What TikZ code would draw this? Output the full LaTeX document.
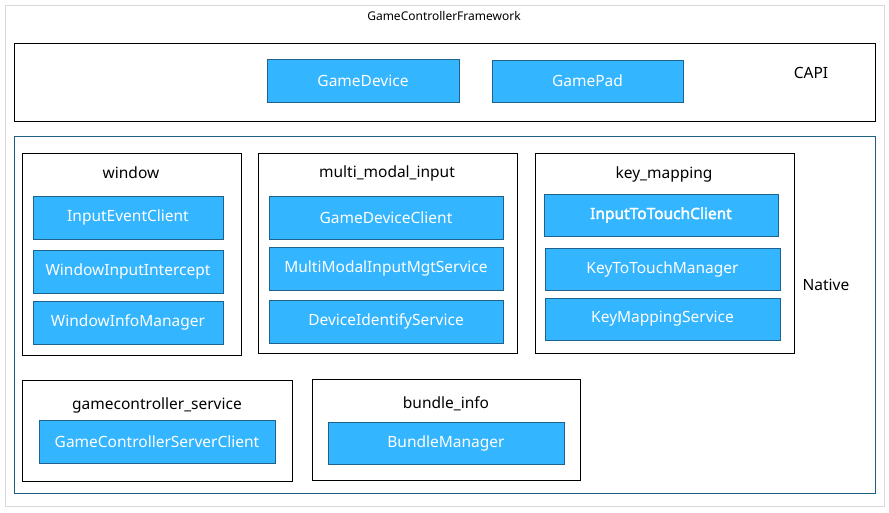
\documentclass[tikz,border=0pt]{standalone}
\usepackage{fontspec}
\setmainfont{Noto Sans}
\newfontfamily\heavylabel{Noto Sans}[FakeBold=2.5]
\usetikzlibrary{positioning}
\definecolor{boxblue}{RGB}{51,181,255}
\definecolor{boxline}{RGB}{31,99,140}
\definecolor{nativeline}{RGB}{31,95,130}
\definecolor{framegray}{RGB}{217,217,217}

\begin{document}
\begin{tikzpicture}[x=1pt,y=-1pt]
	\tikzstyle{every node}=[align=center, inner sep=0pt, font=\fontsize{15.5}{18}\selectfont]
	\tikzstyle{layer}=[draw, rectangle, thick]
	\tikzstyle{group}=[draw, rectangle, thick]
	\tikzstyle{module}=[draw=boxline, fill=boxblue, rectangle, thick, text=white]
	\useasboundingbox (0,0) rectangle (889,512);
  % outer frame and layers
  \node [draw=framegray, thick, minimum width=879pt, minimum height=501pt] (frame) at (444.5,255.5) {};
  \node [font=\fontsize{12}{14}\selectfont] (title) at (444,16) {GameControllerFramework};
  \node [layer, minimum width=861pt, minimum height=78pt] (capi) at (444.5,82) {};
  \node [layer, draw=nativeline, minimum width=861pt, minimum height=357pt] (native) at (444.5,314.5) {};
  \node [] (capilabel) at (811,73) {CAPI};
  \node [] (nativelabel) at (826,285) {Native};

  % CAPI
  \node [module, minimum width=192pt, minimum height=43pt] (gamedevice) at (363,80.5) {GameDevice};
  \node [module, minimum width=191pt, minimum height=42pt] (gamepad) at (587.5,81) {GamePad};

  % window
  \node [group, minimum width=219pt, minimum height=202pt] (window) at (131.5,254) {};
  \node [] (windowtitle) at (131,173) {window};
  \node [module, minimum width=190pt, minimum height=43pt] (w1) at (128,217.5) {InputEventClient};
  \node [module, minimum width=190pt, minimum height=43pt] (w2) at (128,271.5) {WindowInputIntercept};
  \node [module, minimum width=190pt, minimum height=43pt] (w3) at (128,322.5) {WindowInfoManager};

  % multi_modal_input
  \node [group, minimum width=259pt, minimum height=200pt] (mmi) at (387.5,253) {};
  \node [] (mmititle) at (387,173) {multi\_modal\_input};
  \node [module, minimum width=234pt, minimum height=43pt] (m1) at (386,217.5) {GameDeviceClient};
  \node [module, minimum width=234pt, minimum height=43pt] (m2) at (386,268.5) {MultiModalInputMgtService};
  \node [module, minimum width=234pt, minimum height=43pt] (m3) at (386,321.5) {DeviceIdentifyService};

  % key_mapping
  \node [group, minimum width=259pt, minimum height=200pt] (keymap) at (664.5,253) {};
  \node [] (keymaptitle) at (664,174) {key\_mapping};
  \node [module, minimum width=234pt, minimum height=42pt, font=\fontsize{15.5}{18}\heavylabel] (k1) at (661,215) {InputToTouchClient};
  \node [module, minimum width=235pt, minimum height=42pt] (k2) at (662.5,269) {KeyToTouchManager};
  \node [module, minimum width=235pt, minimum height=42pt] (k3) at (662.5,319) {KeyMappingService};

  % gamecontroller_service
  \node [group, minimum width=270pt, minimum height=101pt] (gcs) at (157,430.5) {};
  \node [] (gcstitle) at (157,405) {gamecontroller\_service};
  \node [module, minimum width=236pt, minimum height=43pt] (g1) at (157,441.5) {GameControllerServerClient};

  % bundle_info
  \node [group, minimum width=268pt, minimum height=101pt] (bundle) at (446,429.5) {};
  \node [] (bundletitle) at (446,404) {bundle\_info};
  \node [module, minimum width=236pt, minimum height=42pt] (b1) at (446,443) {BundleManager};
	\end{tikzpicture}
\end{document}
